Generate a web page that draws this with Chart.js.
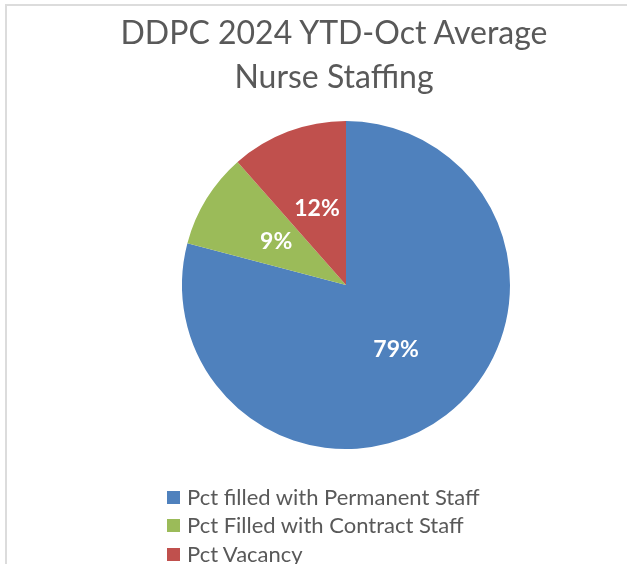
<!DOCTYPE html>
<html>
<head>
<meta charset="utf-8">
<title>DDPC 2024 YTD-Oct Average Nurse Staffing</title>
<script src="https://cdn.jsdelivr.net/npm/chart.js@4.4.1/dist/chart.umd.min.js"></script>
<style>
  html, body { margin: 0; padding: 0; background: #fff; }
  body { width: 627px; height: 564px; position: relative; overflow: hidden; font-family: Lato, "Open Sans", sans-serif; }
  #frame { position: absolute; left: 5px; top: 4px; width: 700px; height: 700px; border: 2px solid #dcdcdc; box-sizing: border-box; }
  #title { position: absolute; left: 0; top: 10px; width: 668px; text-align: center; font-size: 32px; line-height: 44px; color: #595959; }
  #chart { position: absolute; left: 0; top: 0; }
  #legend { position: absolute; left: 167px; top: 483px; margin: 0; padding: 0; list-style: none; }
  #legend li { position: relative; height: 28.3px; line-height: 28.3px; padding-left: 20px; font-size: 22px; color: #595959; white-space: nowrap; }
  #legend li span { position: absolute; left: 0; top: 8px; width: 13px; height: 13px; }
</style>
</head>
<body>
<div id="frame"></div>
<canvas id="chart" width="627" height="564"></canvas>
<div id="title">DDPC 2024 YTD-Oct Average<br>Nurse Staffing</div>
<ul id="legend"></ul>
<script>
const categories = ["Pct filled with Permanent Staff", "Pct Filled with Contract Staff", "Pct Vacancy"];
const values = [79.1, 9.4, 11.5];
const colors = ["#4F81BD", "#9BBB59", "#C0504D"];

// white percentage labels in the middle of each slice
const sliceLabels = {
  id: "sliceLabels",
  afterDatasetsDraw(chart) {
    const ctx = chart.ctx;
    const data = chart.data.datasets[0].data;
    const total = data.reduce((a, b) => a + b, 0);
    ctx.save();
    ctx.fillStyle = "#fff";
    ctx.font = "bold 23px Lato, sans-serif";
    ctx.textAlign = "center";
    ctx.textBaseline = "middle";
    chart.getDatasetMeta(0).data.forEach((arc, i) => {
      const p = arc.getCenterPoint();
      ctx.fillText(Math.round(data[i] / total * 100) + "%", p.x, p.y);
    });
    ctx.restore();
  }
};

document.addEventListener("DOMContentLoaded", () => {
  new Chart(document.getElementById("chart"), {
    type: "pie",
    data: {
      labels: categories,
      datasets: [{
        data: values,
        backgroundColor: colors,
        borderWidth: 0
      }]
    },
    options: {
      responsive: false,
      animation: false,
      layout: { padding: { top: 121, bottom: 115, left: 65, right: 0 } },
      plugins: {
        legend: { display: false },
        title: { display: false },
        tooltip: { enabled: false }
      }
    },
    plugins: [sliceLabels]
  });

  const legend = document.getElementById("legend");
  categories.forEach((name, i) => {
    const li = document.createElement("li");
    const box = document.createElement("span");
    box.style.background = colors[i];
    li.appendChild(box);
    li.appendChild(document.createTextNode(name));
    legend.appendChild(li);
  });
});
</script>
</body>
</html>
